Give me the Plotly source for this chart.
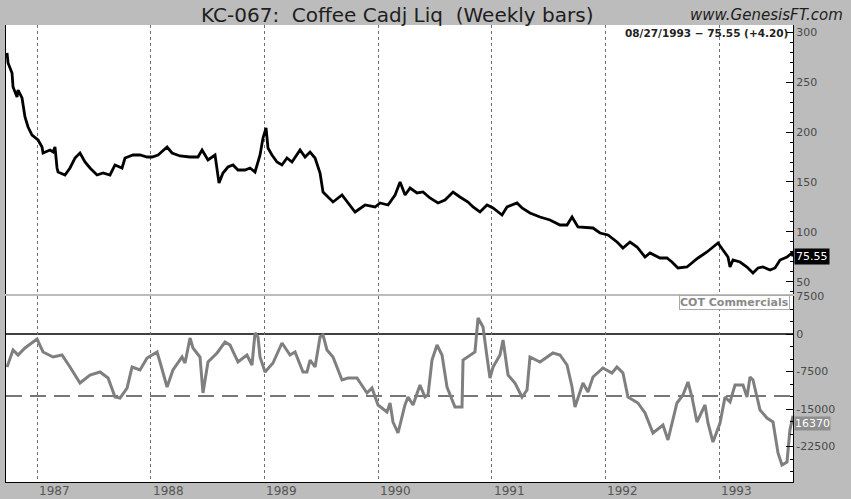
import plotly.graph_objects as go

# ---------------- data ----------------
years = [1987, 1988, 1989, 1990, 1991, 1992, 1993]
year_labels = ["1987", "1988", "1989", "1990", "1991", "1992", "1993"]

price_year = [
    1986.736, 1986.745, 1986.780, 1986.789, 1986.824, 1986.833, 1986.868, 1986.894,
    1986.921, 1986.956, 1987.009, 1987.044, 1987.053, 1987.114, 1987.141, 1987.158,
    1987.176, 1987.185, 1987.246, 1987.290, 1987.334, 1987.378, 1987.422, 1987.466,
    1987.528, 1987.581, 1987.642, 1987.686, 1987.748, 1987.774, 1987.845, 1987.906,
    1987.968, 1988.012, 1988.065, 1988.144, 1988.188, 1988.258, 1988.346, 1988.416,
    1988.452, 1988.504, 1988.566, 1988.592, 1988.601, 1988.636, 1988.680, 1988.724,
    1988.768, 1988.830, 1988.874, 1988.918, 1988.962, 1988.988, 1989.015, 1989.032,
    1989.067, 1989.111, 1989.155, 1989.199, 1989.243, 1989.314, 1989.358, 1989.402,
    1989.446, 1989.490, 1989.516, 1989.560, 1989.604, 1989.683, 1989.736, 1989.798,
    1989.886, 1989.974, 1990.018, 1990.088, 1990.150, 1990.194, 1990.238, 1990.282,
    1990.343, 1990.396, 1990.457, 1990.528, 1990.589, 1990.660, 1990.721, 1990.792,
    1990.836, 1990.897, 1990.959, 1991.012, 1991.091, 1991.135, 1991.223, 1991.267,
    1991.337, 1991.425, 1991.513, 1991.601, 1991.663, 1991.707, 1991.759, 1991.839,
    1991.891, 1991.953, 1992.023, 1992.103, 1992.155, 1992.217, 1992.279, 1992.349,
    1992.393, 1992.481, 1992.542, 1992.586, 1992.639, 1992.718, 1992.762, 1992.815,
    1992.894, 1992.947, 1992.991, 1993.035, 1993.079, 1993.097, 1993.123, 1993.185,
    1993.246, 1993.299, 1993.343, 1993.387, 1993.449, 1993.493, 1993.537, 1993.598,
    1993.642, 1993.651,
]
price_value = [
    279, 269, 259, 245, 235, 242, 234, 215,
    205, 197, 192, 185, 179, 182, 180, 185,
    164, 160, 157, 164, 174, 179, 170, 164,
    157, 159, 157, 167, 164, 174, 177, 177,
    175, 175, 177, 185, 179, 176, 175, 175,
    182, 172, 177, 159, 149, 159, 165, 167,
    162, 162, 164, 160, 177, 194, 204, 184,
    177, 170, 167, 174, 170, 182, 175, 180,
    174, 159, 140, 135, 130, 137, 129, 120,
    127, 125, 129, 127, 137, 150, 137, 144,
    139, 140, 134, 129, 132, 140, 135, 130,
    125, 120, 127, 124, 117, 125, 129, 124,
    119, 115, 112, 107, 107, 115, 105, 104,
    104, 99, 97, 90, 84, 90, 85, 75,
    79, 74, 74, 70, 64, 65, 69, 74,
    80, 85, 89, 82, 75, 65, 72, 70,
    65, 59, 64, 65, 62, 64, 72, 75,
    79, 75.55,
]

cot_year = [
    1986.736, 1986.789, 1986.833, 1986.894, 1987.000, 1987.053, 1987.141, 1987.220,
    1987.290, 1987.378, 1987.466, 1987.554, 1987.625, 1987.686, 1987.730, 1987.792,
    1987.836, 1987.906, 1987.968, 1988.056, 1988.082, 1988.144, 1988.196, 1988.276,
    1988.302, 1988.346, 1988.372, 1988.434, 1988.460, 1988.504, 1988.584, 1988.654,
    1988.698, 1988.768, 1988.847, 1988.891, 1988.918, 1988.944, 1988.962, 1989.006,
    1989.076, 1989.155, 1989.226, 1989.270, 1989.340, 1989.375, 1989.402, 1989.446,
    1989.490, 1989.516, 1989.551, 1989.604, 1989.683, 1989.736, 1989.815, 1989.859,
    1989.903, 1989.947, 1990.000, 1990.079, 1990.106, 1990.132, 1990.176, 1990.237,
    1990.264, 1990.308, 1990.369, 1990.413, 1990.440, 1990.475, 1990.519, 1990.563,
    1990.607, 1990.677, 1990.739, 1990.748, 1990.809, 1990.853, 1990.880, 1990.924,
    1990.959, 1990.985, 1991.012, 1991.073, 1991.100, 1991.144, 1991.205, 1991.267,
    1991.311, 1991.337, 1991.425, 1991.539, 1991.601, 1991.663, 1991.707, 1991.733,
    1991.803, 1991.847, 1991.891, 1991.979, 1992.058, 1992.102, 1992.155, 1992.199,
    1992.287, 1992.349, 1992.419, 1992.507, 1992.551, 1992.630, 1992.683, 1992.727,
    1992.762, 1992.806, 1992.877, 1992.903, 1992.947, 1993.009, 1993.053, 1993.097,
    1993.141, 1993.211, 1993.246, 1993.273, 1993.299, 1993.361, 1993.422, 1993.475,
    1993.519, 1993.554, 1993.598, 1993.624, 1993.651,
]
cot_value = [
    -6600, -3200, -4200, -2800, -1000, -3600, -4600, -4200,
    -6600, -9800, -8200, -7600, -8800, -12600, -12800, -10800,
    -6600, -7200, -4800, -3600, -5600, -10600, -7200, -4600,
    -5800, -800, -2800, -4600, -11800, -5600, -3800, -1600,
    -2200, -5600, -4200, -6200, 200, -600, -4600, -7600,
    -5800, -1800, -4200, -3600, -7600, -7600, -5200, -6600,
    -600, -200, -3200, -4600, -9200, -8800, -8800, -10200,
    -11800, -10800, -14200, -15600, -13800, -17600, -19800, -14200,
    -12600, -14200, -10200, -12600, -12200, -5200, -2200, -4200,
    -10600, -14600, -14600, -5200, -4200, -3600, 3200, 1400,
    -4600, -8800, -6600, -4200, -1200, -8200, -9800, -12600,
    -11200, -4600, -5600, -3800, -4200, -6200, -10600, -14600,
    -9800, -11600, -8600, -6800, -7800, -6600, -7800, -12600,
    -13800, -15800, -19800, -18200, -21200, -13800, -12200, -9600,
    -12600, -17600, -14200, -17800, -21600, -17800, -12600, -13600,
    -10200, -10200, -12600, -8600, -9200, -15200, -16800, -17600,
    -23800, -26200, -25600, -19200, -16370,
]

price_ticks = [50, 100, 150, 200, 250, 300]
cot_ticks = [7500, 0, -7500, -15000, -22500]
cot_tick_text = ["7500", "0", "-7500", "-15000", "-22500"]

title_text = "KC-067:  Coffee Cadj Liq  (Weekly bars)"
site_text = "www.GenesisFT.com"
last_info = "08/27/1993 \u2212 75.55 (+4.20)"
cot_name = "COT Commercials"
last_price = 75.55
last_cot = -16370
cot_zero = 0
cot_threshold = -12400

assert len(price_year) == len(price_value)
assert len(cot_year) == len(cot_value)

# ---------------- figure ----------------
GRAY = "#bcbcbc"
FONT = "DejaVu Sans, Liberation Sans, Arial, sans-serif"
x_range = [1986.727, 1993.651]

fig = go.Figure()
fig.add_trace(go.Scatter(
    x=price_year, y=price_value, mode="lines",
    line=dict(color="black", width=2.8), xaxis="x", yaxis="y",
    showlegend=False, hoverinfo="skip"))
fig.add_trace(go.Scatter(
    x=cot_year, y=cot_value, mode="lines",
    line=dict(color="#7f7f7f", width=3), xaxis="x2", yaxis="y2",
    showlegend=False, hoverinfo="skip"))

common_x = dict(range=x_range, tickmode="array", tickvals=years,
                showticklabels=False, showgrid=True, gridcolor="#6e6e6e",
                griddash="dot", gridwidth=1, zeroline=False, ticks="")

fig.update_layout(
    width=851, height=499,
    margin=dict(l=6, r=58, t=25, b=17),
    paper_bgcolor=GRAY, plot_bgcolor="white",
    font=dict(family=FONT, color="#4a4a4a", size=11),
    xaxis=dict(domain=[0, 1], anchor="y", showline=False, **common_x),
    xaxis2=dict(domain=[0, 1], anchor="y2", showline=True, linecolor="black",
                linewidth=1, **common_x),
    yaxis=dict(domain=[0.4114, 1], side="right", range=[38, 307],
               tickmode="array", tickvals=price_ticks,
               ticks="inside", ticklen=7, tickcolor="black", tickwidth=1,
               minor=dict(tickmode="linear", tick0=0, dtick=10, ticks="inside",
                          ticklen=3, tickcolor="black", showgrid=False),
               showline=True, linecolor="black", linewidth=1, mirror=True,
               showgrid=False, zeroline=False,
               tickfont=dict(size=11, color="#4a4a4a")),
    yaxis2=dict(domain=[0, 0.407], side="right", range=[-29600, 7600],
                tickmode="array", tickvals=cot_ticks, ticktext=cot_tick_text,
                ticks="inside", ticklen=7, tickcolor="black", tickwidth=1,
                minor=dict(tickmode="linear", tick0=0, dtick=2500, ticks="inside",
                           ticklen=3, tickcolor="black", showgrid=False),
                showline=True, linecolor="black", linewidth=1, mirror=True,
                showgrid=False, zeroline=False,
                tickfont=dict(size=11, color="#4a4a4a")),
)

fig.add_shape(type="line", xref="x2 domain", yref="y2", x0=0, x1=1,
              y0=cot_zero, y1=cot_zero, line=dict(color="black", width=1.5),
              layer="below")
fig.add_shape(type="line", xref="x2 domain", yref="y2", x0=0, x1=1,
              y0=cot_threshold, y1=cot_threshold,
              line=dict(color="#777777", width=2, dash="16px,8px"), layer="below")

ann = []
ann.append(dict(text=title_text, xref="paper", yref="paper", x=0.497, y=1.0,
                yshift=10, xanchor="center", yanchor="middle", showarrow=False,
                font=dict(size=20, color="#1e1e1e", family=FONT)))
ann.append(dict(text="<i>" + site_text + "</i>", xref="paper", yref="paper",
                x=1.0, xshift=52, y=1.0, yshift=10, xanchor="right",
                yanchor="middle", showarrow=False,
                font=dict(size=15, color="#1e1e1e", family=FONT)))
ann.append(dict(text="<b>" + last_info + "</b>", xref="paper", yref="paper",
                x=1.0, xshift=-3, y=1.0, yshift=-8, xanchor="right",
                yanchor="middle", showarrow=False,
                font=dict(size=10.5, color="#222222", family=FONT)))
ann.append(dict(text="<b>" + cot_name + "</b>", xref="paper", yref="paper",
                x=1.0, xshift=-3, y=0.407, yshift=-6, xanchor="right",
                yanchor="middle", showarrow=False, bordercolor="#aaaaaa",
                borderwidth=1, borderpad=0, bgcolor="white",
                font=dict(size=11, color="#8a8a8a", family=FONT)))
ann.append(dict(text=f"{last_price:.2f}", xref="paper", yref="y", x=1.0,
                xshift=1, y=last_price, xanchor="left", yanchor="middle",
                showarrow=False, bgcolor="black", borderpad=1,
                font=dict(size=11, color="white", family=FONT)))
ann.append(dict(text=f"{abs(last_cot)}", xref="paper", yref="y2", x=1.0,
                xshift=1, y=last_cot, yshift=-8, xanchor="left", yanchor="middle",
                showarrow=False, bgcolor="#8e8e8e", borderpad=0,
                font=dict(size=11, color="white", family=FONT)))
for yr, lab in zip(years, year_labels):
    ann.append(dict(text=lab, xref="x2", yref="paper", x=yr, xshift=0,
                    y=0, yshift=-9, xanchor="left", yanchor="middle",
                    showarrow=False, font=dict(size=12, color="#555555", family=FONT)))
fig.update_layout(annotations=ann)

fig.write_html("out.html", config={"displayModeBar": False},
               post_script="document.body.style.margin='0';")
